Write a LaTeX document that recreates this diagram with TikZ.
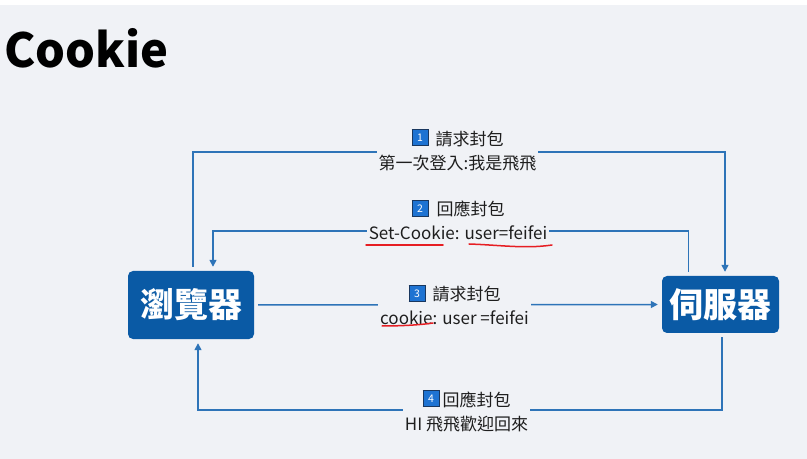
\documentclass[tikz,border=0pt]{standalone}
\usepackage{fontspec}
\setmainfont{Noto Sans CJK TC}
\usetikzlibrary{arrows.meta}
\definecolor{bg}{RGB}{240,242,246}
\definecolor{boxblue}{RGB}{10,90,165}
\definecolor{flowblue}{RGB}{46,116,184}
\definecolor{badgeblue}{RGB}{30,115,210}
\definecolor{badgeedge}{RGB}{25,55,95}
\definecolor{inkred}{RGB}{230,30,35}
\definecolor{ink}{RGB}{30,30,30}
\newcommand\numbadge[1]{{\setlength\fboxsep{0pt}\setlength\fboxrule{1bp}\fcolorbox{badgeedge}{badgeblue}{\makebox[15bp][c]{\rule{0pt}{15bp}\raisebox{3.8bp}{\fontsize{10.5bp}{10.5bp}\selectfont\color{white}#1}}}}}
\tikzset{
  box/.style={fill=boxblue, rounded corners=5bp, text=white, inner sep=0pt,
    font=\fontsize{34bp}{34bp}\selectfont\bfseries},
  flow/.style={draw=flowblue, line width=1.5bp, shorten >=4bp, shorten <=4bp,
    -{Triangle[length=7bp,width=7bp]}},
  lbl/.style={fill=bg, align=center, text=ink, inner xsep=2bp, inner ysep=1bp,
    font=\fontsize{17bp}{24bp}\selectfont},
  redline/.style={draw=inkred, line width=1.5bp, line cap=round}
}
\begin{document}
\begin{tikzpicture}[x=1bp,y=-1bp]
\useasboundingbox (0,0) rectangle (807,459);
\fill[white] (0,0) rectangle (807,459);
\fill[bg] (0,5) rectangle (807,459);
\node[anchor=base west, inner sep=0pt, text=black, font=\fontsize{47bp}{47bp}\selectfont\bfseries] (title) at (4,68) {Cookie};
\node[box, minimum width=126bp, minimum height=68bp] (browser) at (191,305) {瀏覽器};
\node[box, minimum width=117bp, minimum height=57bp] (server) at (720.5,304.5) {伺服器};
% connectors
\draw[flow] ([xshift=2bp]browser.north) -- ++(0,-119) -| ([xshift=4.5bp]server.north);
\draw[flow] ([xshift=-32bp]server.north) -- ++(0,-45) -| ([xshift=22bp]browser.north);
\draw[flow] (browser.east) -- (server.west);
\draw[flow] ([xshift=1.5bp]server.south) -- ++(0,77) -| ([xshift=7bp]browser.south);
% labels
\node[lbl] (l1) at (457.5,150) {\numbadge{1}\hspace{7bp}請求封包\\第一次登入:我是飛飛};
\node[lbl] (l2) at (458,220) {\numbadge{2}\hspace{8bp}回應封包\\Set-Cookie: user=feifei};
\node[lbl] (l3) at (454.5,305) {\numbadge{3}\hspace{7bp}請求封包\\cookie: user =feifei};
\node[lbl] (l4) at (466.5,411) {\numbadge{4}\hspace{3bp}回應封包\\HI 飛飛歡迎回來};
% red underlines
\draw[redline] (366,245) -- (443,245);
\draw[redline] (469,244) .. controls (500,245) and (525,249) .. (552,245);
\draw[redline] (382,326) .. controls (400,326) and (420,325) .. (433,323);
\end{tikzpicture}
\end{document}
